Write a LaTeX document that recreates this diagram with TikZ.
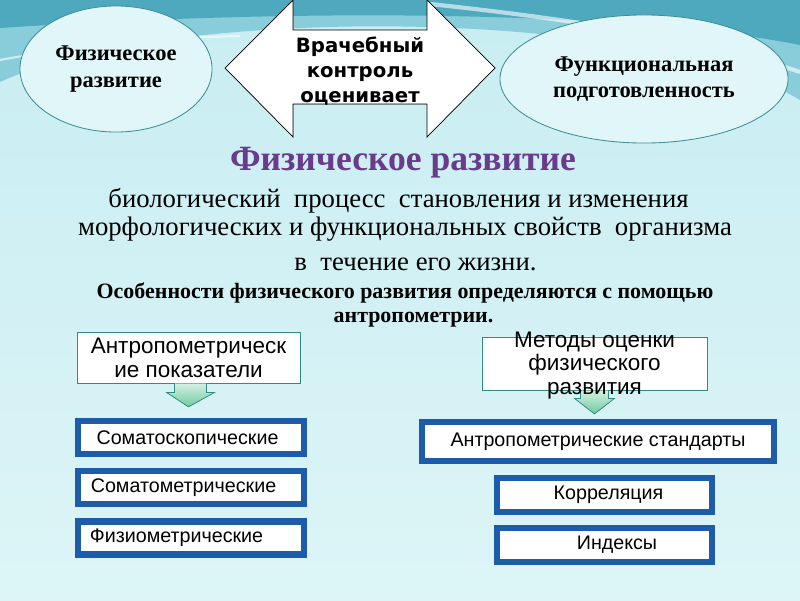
\documentclass[tikz,border=0pt]{standalone}
\usepackage{fontspec}
\setmainfont{Liberation Serif}
\setsansfont{Liberation Sans}
\newfontfamily\controlfont{DejaVu Sans}
\usepackage{xcolor}
\definecolor{slidetop}{HTML}{C8EDF2}
\definecolor{slidebottom}{HTML}{DDF5F7}
\definecolor{swirldark}{HTML}{4EA9BE}
\definecolor{swirlmid}{HTML}{88CDD9}
\definecolor{ovalcyan}{HTML}{9CE0E8}
\definecolor{ovaledge}{HTML}{3E8E98}
\definecolor{titlepurple}{HTML}{6A3A8C}
\definecolor{headedge}{HTML}{2E8C80}
\definecolor{arrowgreen}{HTML}{6FCB9F}
\definecolor{boxblue}{HTML}{1D5CA8}
\usepackage{tikz}
\usetikzlibrary{shapes.geometric,positioning,calc}

\tikzset{
  oval/.style={ellipse, draw=ovaledge, line width=0.6pt,
    left color=ovalcyan!30!white, middle color=ovalcyan,
    right color=ovalcyan!30!white, align=center, inner sep=0pt,
    font=\bfseries\fontsize{16}{19}\selectfont},
  headbox/.style={draw=headedge, line width=0.6pt, left color=white,
    middle color=arrowgreen!30!white, right color=white, align=center,
    inner sep=0pt, font=\sffamily\fontsize{16}{17}\selectfont},
  greenarrow/.style={draw=headedge, line width=0.5pt,
    top color=arrowgreen!30!white, bottom color=arrowgreen},
  bluebox/.style={draw=boxblue, line width=4.5pt, fill=white,
    align=center, inner sep=0pt, font=\sffamily\fontsize{14}{16}\selectfont},
  bodytext/.style={align=center, inner sep=0pt,
    font=\fontsize{19}{19.5}\selectfont},
  boldtext/.style={align=center, inner sep=0pt,
    font=\bfseries\fontsize{15.6}{17}\selectfont},
}

\begin{document}
\begin{tikzpicture}[x=0.025cm,y=-0.025cm]

  %% Slide background
  \useasboundingbox (0,0) rectangle (800,600);
  \fill[top color=slidetop, bottom color=slidebottom] (0,0) rectangle (800,600);
  \fill[swirlmid] (0,0) -- (800,0) -- (800,100)
    .. controls (700,40) and (480,20) .. (300,28)
    .. controls (150,35) and (60,55) .. (0,82) -- cycle;
  \fill[swirldark] (0,0) -- (800,0) -- (800,45)
    .. controls (650,15) and (350,5) .. (0,28) -- cycle;
  \draw[white, line width=3pt, opacity=0.6] (430,4)
    .. controls (560,18) and (700,38) .. (800,72);
  \draw[white, line width=1.5pt, opacity=0.6] (0,60)
    .. controls (80,45) and (160,38) .. (240,36);

  %% Top ovals
  \node[oval, minimum width=4.8cm, minimum height=3.15cm]
    (physdev) at (116,69) {Физическое\\развитие};
  \node[oval, minimum width=7.2cm, minimum height=3.2cm]
    (funcprep) at (644,79) {Функциональная\\подготовленность};

  %% Double block arrow
  \filldraw[draw=black, line width=0.5pt, left color=white,
            middle color=gray!60, right color=white]
    (225,68) -- (293,0) -- (293,30) -- (427,30) -- (427,0) -- (495,68)
    -- (427,137) -- (427,104) -- (293,104) -- (293,137) -- cycle;
  \node[align=center, inner sep=0pt,
        font=\controlfont\bfseries\fontsize{14}{17.5}\selectfont]
    (control) at (360,71) {Врачебный\\контроль\\оценивает};

  %% Definition text
  \node[bodytext, anchor=base, text=titlepurple,
        font=\bfseries\fontsize{25.3}{27}\selectfont]
    (title) at (403,170) {Физическое развитие};
  \node[bodytext] (definition) at (405,215)
    {биологический\ \ процесс\ \ становления и изменения\hspace*{0.325cm}\\
     морфологических и функциональных свойств\ \ организма};
  \node[bodytext, anchor=base] (lifetime) at (415.5,270)
    {в\ \ течение его жизни.};
  \node[boldtext] (features) at (405,305)
    {Особенности физического развития определяются с помощью\\
     \hspace*{0.425cm}антропометрии.};

  %% Left column
  \node[headbox, minimum width=5.575cm, minimum height=1.275cm]
    (anthrohead) at (188.5,357.5) {Антропометрическ\\ие показатели};
  \node[bluebox, minimum width=5.65cm, minimum height=0.825cm]
    (somatoscop) at (191,437.5) {Соматоскопические\hspace*{0.175cm}};
  \node[bluebox, minimum width=5.65cm, minimum height=0.825cm]
    (somatomet) at (191,487.5) {Соматометрические\hspace*{0.375cm}};
  \node[bluebox, minimum width=5.65cm, minimum height=0.825cm]
    (physiomet) at (191,538) {Физиометрические\hspace*{0.725cm}};

  \coordinate (anthrotip) at ($(anthrohead.south |- somatoscop.north)+(0,-11)$);
  \filldraw[greenarrow] ($(anthrohead.south)+(-14,0)$) -- ++(0,9) -- ++(-8,0)
    -- (anthrotip) -- ($(anthrohead.south)+(26,9)$) -- ++(-8,0) -- ++(0,-9);

  %% Right column
  \node[headbox, minimum width=5.625cm, minimum height=1.325cm]
    (methodshead) at (594.5,363.5) {};
  \node[bluebox, minimum width=8.8cm, minimum height=0.975cm]
    (standards) at (598,441.5) {Антропометрические стандарты};
  \node[bluebox, minimum width=5.375cm, minimum height=0.85cm]
    (correl) at (604.5,495) {\hspace*{0.2cm}Корреляция};
  \node[bluebox, minimum width=5.375cm, minimum height=0.85cm]
    (indices) at (604.5,545) {\hspace*{0.625cm}Индексы};

  \coordinate (methodstip) at ($(methodshead.south |- standards.north)+(0,-5)$);
  \filldraw[greenarrow] ($(methodshead.south)+(-14,0)$) -- ++(0,8) -- ++(-6,0)
    -- (methodstip) -- ($(methodshead.south)+(20,8)$) -- ++(-6,0) -- ++(0,-8);
  \node[align=center, inner sep=0pt, font=\sffamily\fontsize{16}{17}\selectfont]
    (methodslabel) at ($(methodshead.center)+(0,2)$)
    {Методы оценки\\физического\\развития};

\end{tikzpicture}
\end{document}
